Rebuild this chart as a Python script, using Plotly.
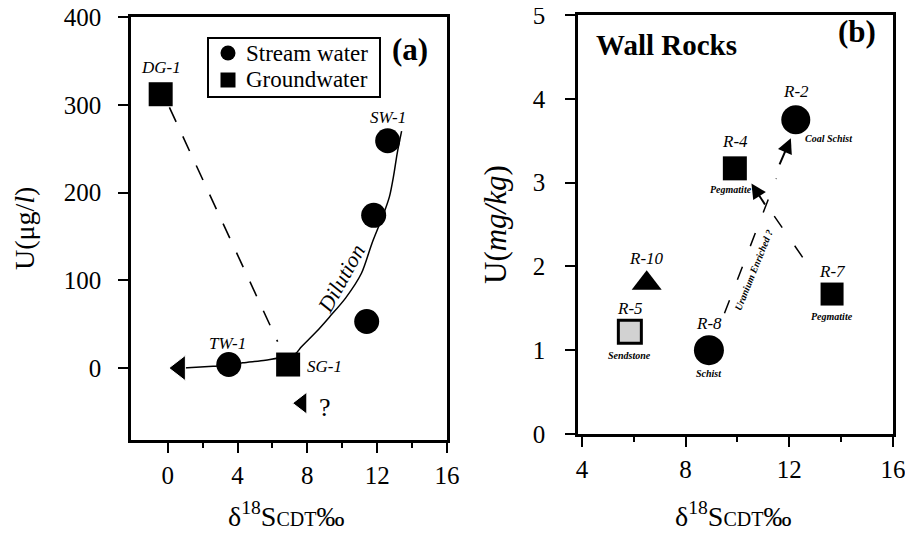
import plotly.graph_objects as go

FONT = "Liberation Serif"
W, H = 913, 533
OFF = 8  # page body margin of the browser

# ---------------- Panel (a) data ----------------
a_stream_x = [3.5, 11.4, 11.8, 12.6]
a_stream_y = [4, 53, 174, 259]
a_ground_x = [-0.4, 6.9]
a_ground_y = [312, 4]
a_label_text = ["DG-1", "SW-1", "TW-1", "SG-1"]
a_label_x = [-0.4, 12.6, 3.4, 9.0]
a_label_y = [342, 286, 28, 2]
a_tri_x = [0.7, 7.7]
a_tri_y = [0, -40]
a_curve_x = [0.9, 2.6, 3.5, 4.3, 5.6, 7.3, 7.65, 8.5, 9.26, 10.2, 11.1, 11.7, 12.3, 12.7, 12.95, 13.15, 13.4]
a_curve_y = [0, 2, 3, 6, 9, 16, 24, 41, 58, 80, 108, 142, 172, 195, 220, 245, 270]
a_dash_x = [0.1, 6.3]
a_dash_y = [297, 30]
a_xticks = [0, 4, 8, 12, 16]
a_yticks = [0, 100, 200, 300, 400]
legend_names = ["Stream water", "Groundwater"]

# ---------------- Panel (b) data ----------------
rock_names = ["R-2", "R-4", "R-10", "R-5", "R-8", "R-7"]
rock_types = ["Coal Schist", "Pegmatite", "", "Sendstone", "Schist", "Pegmatite"]
rock_x = [12.25, 9.9, 6.5, 5.85, 8.9, 13.65]
rock_y = [3.75, 3.17, 1.8, 1.22, 1.0, 1.67]
rock_symbols = ["circle", "square", "triangle-up", "square", "circle", "square"]
rock_colors = ["black", "black", "black", "#d2d2d2", "black", "black"]
b_dash1_x = [9.5, 11.5]
b_dash1_y = [1.44, 3.05]
b_dash2_x = [11.42, 12.8]
b_dash2_y = [2.6, 1.98]
b_arrow_tail_x = [11.1, 11.6]
b_arrow_tail_y = [2.72, 3.2]
b_arrow_head_x = [10.54, 12.06]
b_arrow_head_y = [2.99, 3.53]
b_xticks = [4, 8, 12, 16]
b_yticks = [0, 1, 2, 3, 4, 5]


def px(x):
    return (x - OFF) / (W - OFF)


def py(y):
    return 1 - (y - OFF) / (H - OFF)


fig = go.Figure()

# ---- panel a traces ----
fig.add_trace(go.Scatter(x=a_curve_x, y=a_curve_y, mode="lines",
                         line=dict(color="black", width=1.5, shape="spline", smoothing=0.8),
                         showlegend=False, xaxis="x", yaxis="y", hoverinfo="skip"))
fig.add_trace(go.Scatter(x=a_dash_x, y=a_dash_y, mode="lines",
                         line=dict(color="black", width=1.6, dash="16px,16px"),
                         showlegend=False, xaxis="x", yaxis="y", hoverinfo="skip"))
fig.add_trace(go.Scatter(x=a_stream_x, y=a_stream_y, mode="markers", name=legend_names[0], showlegend=False,
                         marker=dict(symbol="circle", size=25, color="black", opacity=1), xaxis="x", yaxis="y"))
fig.add_trace(go.Scatter(x=a_ground_x, y=a_ground_y, mode="markers", name=legend_names[1], showlegend=False,
                         marker=dict(symbol="square", size=24, color="black", opacity=1), xaxis="x", yaxis="y"))
fig.add_trace(go.Scatter(x=a_tri_x, y=a_tri_y, mode="markers", showlegend=False,
                         marker=dict(symbol="triangle-left", size=[22, 19], color="black", opacity=1),
                         xaxis="x", yaxis="y"))

# ---- panel b traces ----
fig.add_trace(go.Scatter(x=b_dash1_x, y=b_dash1_y, mode="lines",
                         line=dict(color="black", width=1.5, dash="14px,22px"),
                         showlegend=False, xaxis="x2", yaxis="y2", hoverinfo="skip"))
fig.add_trace(go.Scatter(x=b_dash2_x, y=b_dash2_y, mode="lines",
                         line=dict(color="black", width=1.5, dash="14px,22px"),
                         showlegend=False, xaxis="x2", yaxis="y2", hoverinfo="skip"))
fig.add_trace(go.Scatter(x=rock_x, y=rock_y, mode="markers", showlegend=False,
                         marker=dict(symbol=rock_symbols, size=[29, 24, 26, 23, 30, 23], color=rock_colors,
                                     opacity=1, line=dict(color="black", width=[0, 0, 0, 3, 0, 0])),
                         xaxis="x2", yaxis="y2"))

ann = []
for t, x, y in zip(a_label_text, a_label_x, a_label_y):
    ann.append(dict(x=x, y=y, xref="x", yref="y", text=f"<i>{t}</i>", showarrow=False,
                    font=dict(family=FONT, size=17, color="black")))
ann.append(dict(x=9.0, y=-45, xref="x", yref="y", text="?", showarrow=False,
                font=dict(family=FONT, size=26, color="black")))
ann.append(dict(x=9.94, y=102, xref="x", yref="y", text="<i>Dilution</i>", showarrow=False, textangle=-61,
                font=dict(family=FONT, size=22, color="black")))
ann.append(dict(x=px(410), y=py(50), xref="paper", yref="paper", text="<b>(a)</b>", showarrow=False,
                xanchor="center", yanchor="middle", font=dict(family=FONT, size=31, color="black")))

# manual legend (panel a)
shapes = [
    dict(type="rect", xref="paper", yref="paper", x0=px(208), x1=px(380), y0=py(97), y1=py(38),
         line=dict(color="black", width=2), fillcolor="white", layer="below"),
    dict(type="circle", xref="paper", yref="paper", x0=px(220.5), x1=px(235.5), y0=py(60.5), y1=py(45.5),
         line=dict(color="black", width=0), fillcolor="black"),
    dict(type="rect", xref="paper", yref="paper", x0=px(220.5), x1=px(235.5), y0=py(87.5), y1=py(72.5),
         line=dict(color="black", width=0), fillcolor="black"),
]
for name, yy in zip(legend_names, [53, 80]):
    ann.append(dict(x=px(244), y=py(yy), xref="paper", yref="paper", text=name, showarrow=False,
                    xanchor="left", yanchor="middle", font=dict(family=FONT, size=23, color="black")))

# panel b labels
name_shift = [28, 27, 25, 23, 27, 23]
type_shift = [-19, -21, 0, -24, -23, -22]
type_xshift = [33, -4, 0, 0, 0, 0]
for n, t, x, y, ns, ts, tx in zip(rock_names, rock_types, rock_x, rock_y, name_shift, type_shift, type_xshift):
    ann.append(dict(x=x, y=y, xref="x2", yref="y2", text=f"<i>{n}</i>", showarrow=False, yshift=ns,
                    font=dict(family=FONT, size=17, color="black")))
    if t:
        ann.append(dict(x=x, y=y, xref="x2", yref="y2", text=f"<b><i>{t}</i></b>", showarrow=False,
                        yshift=ts, xshift=tx, font=dict(family=FONT, size=10, color="black")))
for tx, ty, hx, hy in zip(b_arrow_tail_x, b_arrow_tail_y, b_arrow_head_x, b_arrow_head_y):
    ann.append(dict(x=hx, y=hy, ax=tx, ay=ty, xref="x2", yref="y2", axref="x2", ayref="y2", text="",
                    showarrow=True, arrowhead=2, arrowsize=1.5, arrowwidth=2, arrowcolor="black"))
ann.append(dict(x=10.62, y=1.95, xref="x2", yref="y2", text="<b><i>Uranium Enriched ?</i></b>", showarrow=False,
                textangle=-68, font=dict(family=FONT, size=10, color="black")))
ann.append(dict(x=7.27, y=4.64, xref="x2", yref="y2", text="<b>Wall Rocks</b>", showarrow=False,
                font=dict(family=FONT, size=29, color="black")))
ann.append(dict(x=14.6, y=4.8, xref="x2", yref="y2", text="<b>(b)</b>", showarrow=False,
                font=dict(family=FONT, size=31, color="black")))

# axis titles as annotations
xtitle = "δ<sup>18</sup>S<span style='font-size:20px'>CDT</span>‰"
for cx, cy in [(286, 514), (733, 514)]:
    ann.append(dict(x=px(cx), y=py(cy), xref="paper", yref="paper", text=xtitle, showarrow=False,
                    xanchor="center", yanchor="middle", font=dict(family=FONT, size=28, color="black")))
ann.append(dict(x=px(24), y=py(229), xref="paper", yref="paper", text="U(μg/<i>l</i>)", showarrow=False,
                xanchor="center", yanchor="middle", textangle=-90, font=dict(family=FONT, size=28, color="black")))
ann.append(dict(x=px(495), y=py(225), xref="paper", yref="paper", text="U(<i>mg/kg</i>)", showarrow=False,
                xanchor="center", yanchor="middle", textangle=-90, font=dict(family=FONT, size=31, color="black")))

axis_common = dict(showline=True, linecolor="black", linewidth=2.5, mirror=True, ticks="outside",
                   ticklen=10, tickwidth=2, tickcolor="black", showgrid=False, zeroline=False,
                   automargin=False, ticklabeloverflow="allow",
                   tickfont=dict(family=FONT, size=25, color="black"))

fig.update_layout(
    width=W - OFF, height=H - OFF,
    margin=dict(l=0, r=0, t=0, b=0, autoexpand=False),
    paper_bgcolor="white", plot_bgcolor="white",
    font=dict(family=FONT, color="black"),
    showlegend=False,
    xaxis=dict(domain=[px(131), px(447)], range=[-2.1, 16], tickvals=a_xticks, anchor="y",
               minor=dict(tickvals=[2, 6, 10, 14], ticklen=5, tickwidth=2, ticks="outside", tickcolor="black"),
               ticklabelstandoff=1, **axis_common),
    yaxis=dict(domain=[py(440), py(17)], range=[-82, 400], tickvals=a_yticks, anchor="x",
               ticklabelstandoff=12, **axis_common),
    xaxis2=dict(domain=[px(578), px(893)], range=[3.85, 16], tickvals=b_xticks, anchor="y2",
                minor=dict(tickvals=[6, 10, 14], ticklen=5, tickwidth=2, ticks="outside", tickcolor="black"),
                ticklabelstandoff=1, **axis_common),
    yaxis2=dict(domain=[py(434), py(15)], range=[0, 5], tickvals=b_yticks, anchor="x2",
                ticklabelstandoff=15, **axis_common),
    annotations=ann,
    shapes=shapes,
)

fig.write_html("out.html")
